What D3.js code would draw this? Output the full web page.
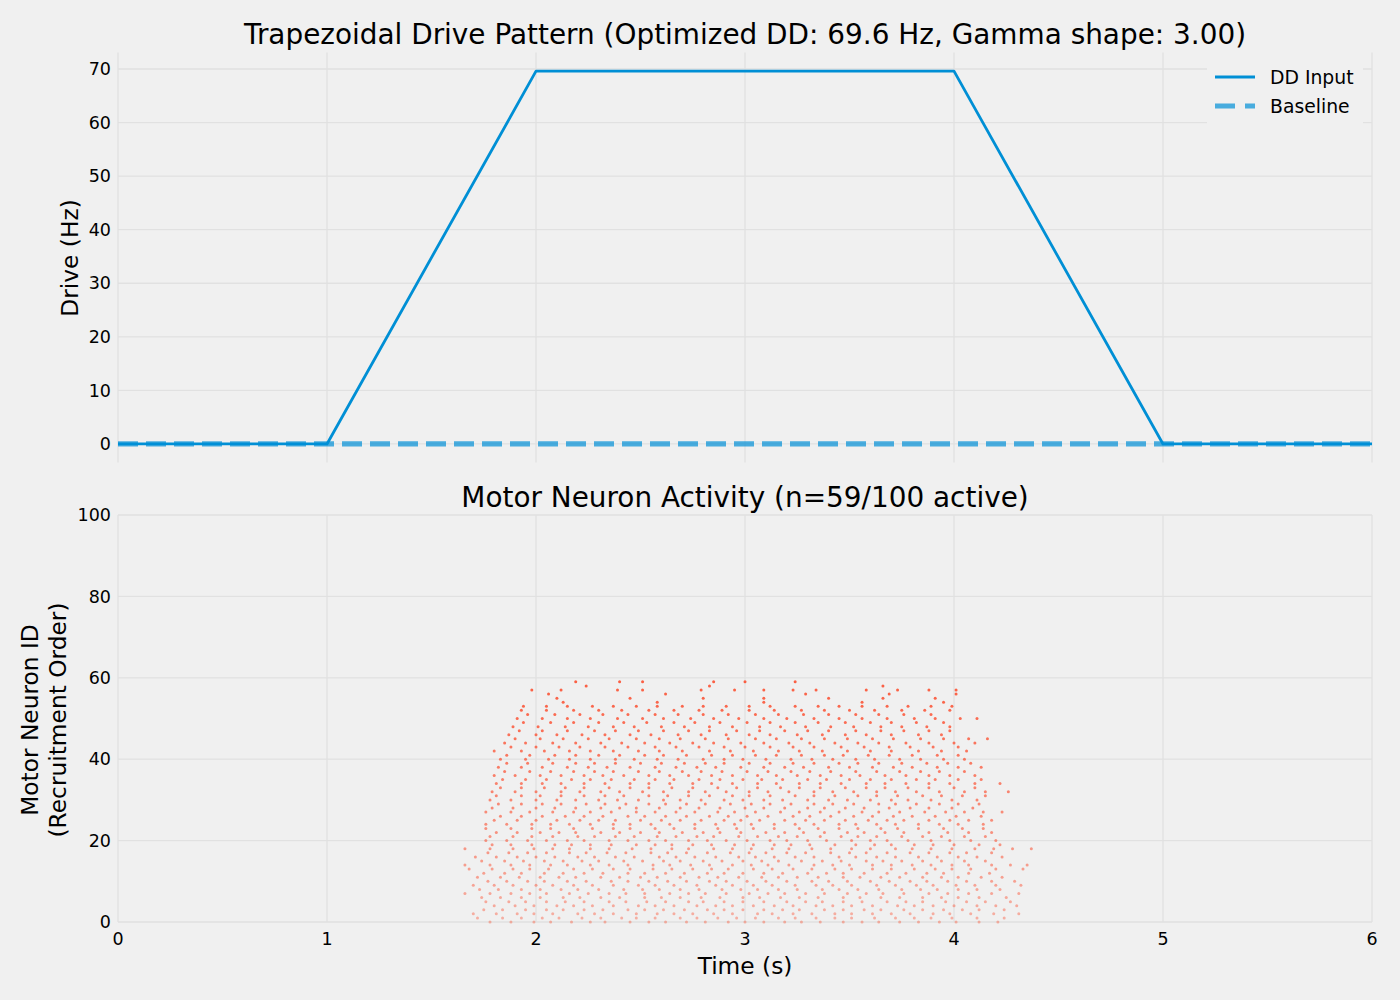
<!DOCTYPE html>
<html><head><meta charset="utf-8">
<script src="https://cdn.jsdelivr.net/npm/d3@7"></script>
<style>
body{margin:0;background:#f0f0f0;}
svg text{font-family:"DejaVu Sans",sans-serif;fill:#000;}
</style>
</head><body>
<svg id="chart" width="1400" height="1000"></svg>
<script>
// ---------- data ----------
const driveTimes = [0, 1, 2, 4, 5, 6];
const driveValues = [0, 0, 69.6, 69.6, 0, 0];
const baselineTimes = [0, 6];
const baselineValues = [0, 0];
const driveTicks = [0, 10, 20, 30, 40, 50, 60, 70];
const neuronTicks = [0, 20, 40, 60, 80, 100];
const timeTicks = [0, 1, 2, 3, 4, 5, 6];
const topTitle = "Trapezoidal Drive Pattern (Optimized DD: 69.6 Hz, Gamma shape: 3.00)";
const bottomTitle = "Motor Neuron Activity (n=59/100 active)";

// spike times (s), index = motor neuron ID (recruitment order)
const spikeTrains = [
[1.78,1.88,1.99,2.07,2.17,2.26,2.33,2.45,2.54,2.62,2.72,2.81,2.92,3.00,3.09,3.19,3.27,3.36,3.47,3.56,3.64,3.74,3.83,3.93,4.01,4.12,4.21],
[1.72,1.84,1.93,2.03,2.11,2.22,2.31,2.41,2.48,2.57,2.69,2.77,2.87,2.96,3.05,3.16,3.24,3.34,3.43,3.51,3.62,3.72,3.81,3.89,3.99,4.11,4.24],
[1.70,1.81,1.91,1.99,2.08,2.20,2.28,2.37,2.48,2.58,2.66,2.75,2.85,2.94,3.06,3.13,3.23,3.32,3.43,3.51,3.61,3.70,3.79,3.90,3.98,4.08,4.19,4.31],
[1.75,1.84,1.95,2.05,2.13,2.23,2.32,2.44,2.52,2.61,2.71,2.82,2.90,2.99,3.09,3.18,3.26,3.38,3.47,3.57,3.65,3.76,3.85,3.95,4.04,4.12,4.24],
[1.80,1.90,1.99,2.10,2.18,2.27,2.37,2.49,2.57,2.66,2.77,2.86,2.94,3.04,3.14,3.23,3.34,3.42,3.51,3.61,3.73,3.81,3.90,4.00,4.11,4.20,4.30],
[1.76,1.87,1.95,2.05,2.14,2.23,2.35,2.43,2.53,2.62,2.73,2.80,2.90,2.99,3.09,3.20,3.29,3.37,3.47,3.56,3.68,3.77,3.85,3.96,4.06,4.15,4.27],
[1.74,1.83,1.93,2.02,2.13,2.21,2.31,2.40,2.52,2.60,2.69,2.79,2.88,2.99,3.07,3.17,3.26,3.35,3.47,3.55,3.65,3.74,3.85,3.94,4.02,4.12,4.25],
[1.66,1.78,1.88,1.97,2.05,2.16,2.25,2.35,2.43,2.52,2.64,2.73,2.81,2.91,3.02,3.11,3.19,3.29,3.38,3.49,3.58,3.66,3.76,3.88,3.97,4.07,4.18,4.31],
[1.73,1.82,1.93,2.02,2.12,2.20,2.30,2.42,2.51,2.59,2.69,2.78,2.89,2.98,3.06,3.16,3.25,3.37,3.45,3.54,3.64,3.75,3.84,3.92,4.02,4.11,4.22],
[1.70,1.80,1.89,2.00,2.08,2.18,2.27,2.37,2.49,2.57,2.66,2.77,2.86,2.94,3.04,3.13,3.24,3.34,3.42,3.51,3.63,3.72,3.82,3.90,4.01,4.10,4.20,4.32],
[1.77,1.86,1.96,2.04,2.15,2.24,2.36,2.44,2.54,2.63,2.72,2.83,2.91,3.01,3.10,3.20,3.32,3.40,3.49,3.60,3.69,3.79,3.87,3.97,4.06,4.18,4.29],
[1.72,1.83,1.92,2.02,2.11,2.19,2.31,2.40,2.50,2.58,2.69,2.78,2.87,2.97,3.08,3.16,3.25,3.35,3.47,3.55,3.65,3.74,3.85,3.94,4.02,4.13,4.23],
[1.75,1.85,1.93,2.04,2.13,2.23,2.32,2.44,2.52,2.62,2.71,2.82,2.90,2.99,3.09,3.18,3.30,3.39,3.47,3.57,3.68,3.77,3.87,3.95,4.07,4.17],
[1.68,1.79,1.89,1.97,2.06,2.18,2.27,2.37,2.45,2.56,2.65,2.75,2.84,2.92,3.04,3.13,3.23,3.32,3.43,3.51,3.61,3.70,3.81,3.91,3.99,4.08,4.20,4.33],
[1.66,1.78,1.88,1.97,2.07,2.15,2.26,2.35,2.44,2.56,2.64,2.74,2.83,2.94,3.03,3.11,3.21,3.33,3.42,3.50,3.61,3.70,3.80,3.89,3.99,4.07,4.18,4.27,4.35],
[1.74,1.85,1.94,2.04,2.13,2.22,2.30,2.42,2.51,2.61,2.69,2.80,2.89,2.99,3.08,3.16,3.27,3.37,3.46,3.58,3.66,3.75,3.85,3.94,4.05,4.15],
[1.71,1.81,1.91,2.00,2.09,2.20,2.28,2.38,2.47,2.59,2.67,2.76,2.86,2.97,3.05,3.14,3.24,3.33,3.45,3.53,3.63,3.72,3.83,3.92,4.02,4.11,4.23],
[1.77,1.87,1.96,2.05,2.16,2.24,2.34,2.43,2.55,2.63,2.72,2.82,2.93,3.02,3.10,3.20,3.29,3.41,3.50,3.58,3.68,3.79,3.88,3.98,4.06,4.18],
[1.66,1.78,1.89,1.99,2.08,2.16,2.26,2.35,2.46,2.55,2.65,2.73,2.85,2.94,3.03,3.13,3.21,3.32,3.41,3.51,3.60,3.72,3.80,3.89,3.99,4.10,4.19,4.28,4.37],
[1.79,1.88,1.98,2.09,2.17,2.26,2.36,2.48,2.57,2.65,2.75,2.84,2.95,3.04,3.14,3.22,3.31,3.43,3.53,3.62,3.70,3.81,3.90,4.00,4.12,4.22],
[1.76,1.86,1.96,2.05,2.15,2.23,2.35,2.44,2.54,2.62,2.73,2.82,2.91,3.01,3.12,3.20,3.30,3.39,3.51,3.60,3.68,3.78,3.89,3.98,4.08,4.20],
[1.78,1.89,1.98,2.08,2.20,2.28,2.38,2.47,2.58,2.67,2.77,2.85,2.97,3.06,3.16,3.25,3.36,3.46,3.54,3.63,3.75,3.85,3.94,4.05,4.15],
[1.81,1.91,2.02,2.11,2.19,2.31,2.40,2.50,2.59,2.70,2.80,2.88,2.98,3.10,3.19,3.28,3.38,3.49,3.57,3.67,3.76,3.88,3.97,4.07,4.18],
[1.76,1.88,1.98,2.07,2.18,2.27,2.37,2.45,2.57,2.66,2.76,2.87,2.96,3.04,3.14,3.26,3.35,3.45,3.54,3.65,3.73,3.83,3.95,4.04,4.14],
[1.76,1.86,1.98,2.07,2.16,2.26,2.37,2.45,2.55,2.64,2.76,2.86,2.95,3.03,3.14,3.24,3.33,3.45,3.53,3.63,3.72,3.83,3.93,4.02,4.14],
[1.80,1.91,2.00,2.10,2.21,2.30,2.38,2.50,2.60,2.69,2.79,2.90,2.98,3.07,3.19,3.29,3.38,3.48,3.59,3.68,3.76,3.88,3.98,4.07,4.18],
[1.83,1.93,2.03,2.14,2.23,2.32,2.44,2.52,2.62,2.72,2.83,2.92,3.01,3.11,3.23,3.31,3.41,3.52,3.61,3.71,3.80,3.91,4.01,4.13],
[1.76,1.88,1.97,2.08,2.18,2.26,2.36,2.48,2.57,2.67,2.76,2.87,2.95,3.05,3.17,3.26,3.36,3.45,3.56,3.64,3.74,3.86,3.96,4.05,4.14,4.23],
[1.79,1.89,2.00,2.09,2.19,2.31,2.40,2.48,2.59,2.69,2.78,2.88,3.00,3.09,3.19,3.30,3.38,3.48,3.57,3.69,3.79,3.88,3.99,4.09],
[1.82,1.93,2.03,2.12,2.24,2.33,2.43,2.54,2.62,2.72,2.81,2.93,3.03,3.12,3.22,3.33,3.42,3.52,3.64,3.72,3.82,3.93,4.02,4.12],
[1.78,1.88,2.00,2.10,2.19,2.30,2.39,2.49,2.61,2.69,2.79,2.90,2.99,3.09,3.18,3.30,3.40,3.49,3.60,3.70,3.78,3.89,3.99,4.11],
[1.81,1.93,2.02,2.12,2.23,2.33,2.42,2.54,2.63,2.73,2.83,2.94,3.02,3.12,3.24,3.33,3.43,3.54,3.63,3.73,3.85,3.94,4.04,4.15],
[1.79,1.90,2.00,2.12,2.21,2.31,2.40,2.51,2.61,2.73,2.81,2.91,3.02,3.11,3.21,3.33,3.42,3.52,3.63,3.72,3.82,3.93,4.05,4.15,4.26],
[1.83,1.93,2.04,2.14,2.23,2.35,2.45,2.54,2.65,2.75,2.87,2.96,3.06,3.17,3.26,3.36,3.48,3.58,3.67,3.78,3.88,4.00,4.10],
[1.81,1.93,2.03,2.12,2.23,2.33,2.45,2.54,2.64,2.75,2.84,2.94,3.06,3.15,3.26,3.36,3.46,3.58,3.67,3.77,3.88,3.98,4.10,4.22],
[1.84,1.95,2.05,2.17,2.26,2.36,2.47,2.57,2.66,2.78,2.88,2.99,3.08,3.18,3.30,3.39,3.50,3.60,3.70,3.82,3.91,4.02,4.13],
[1.80,1.90,2.02,2.12,2.23,2.32,2.42,2.54,2.64,2.73,2.84,2.94,3.06,3.15,3.25,3.36,3.46,3.55,3.67,3.77,3.88,3.98,4.10],
[1.85,1.97,2.07,2.18,2.28,2.37,2.49,2.59,2.70,2.79,2.89,3.01,3.11,3.22,3.31,3.41,3.53,3.63,3.74,3.84,3.93,4.05],
[1.82,1.93,2.03,2.15,2.25,2.34,2.45,2.57,2.67,2.77,2.86,2.98,3.09,3.19,3.28,3.40,3.50,3.61,3.71,3.80,3.92,4.02,4.13],
[1.86,1.96,2.08,2.19,2.28,2.38,2.50,2.60,2.71,2.81,2.90,3.02,3.12,3.23,3.33,3.45,3.54,3.64,3.75,3.87,3.97,4.08],
[1.83,1.95,2.06,2.16,2.26,2.38,2.47,2.58,2.68,2.80,2.90,2.99,3.10,3.22,3.32,3.42,3.53,3.62,3.74,3.84,3.95,4.05],
[1.86,1.97,2.09,2.19,2.30,2.40,2.52,2.61,2.72,2.84,2.94,3.05,3.15,3.27,3.38,3.47,3.59,3.69,3.80,3.92,4.02],
[1.80,1.93,2.04,2.16,2.26,2.37,2.49,2.59,2.70,2.83,2.93,3.04,3.16,3.26,3.37,3.49,3.60,3.70,3.83,3.94,4.06],
[1.88,2.00,2.11,2.21,2.33,2.44,2.57,2.67,2.78,2.90,3.00,3.12,3.23,3.33,3.46,3.57,3.69,3.79,3.90,4.02],
[1.85,1.95,2.08,2.19,2.31,2.41,2.52,2.64,2.75,2.85,2.98,3.09,3.21,3.31,3.43,3.54,3.64,3.77,3.88,4.00,4.10],
[1.90,2.02,2.13,2.25,2.35,2.48,2.59,2.69,2.81,2.92,3.05,3.15,3.27,3.38,3.49,3.61,3.71,3.84,3.95,4.07,4.16],
[1.87,2.00,2.10,2.22,2.33,2.45,2.55,2.68,2.79,2.91,3.02,3.12,3.25,3.37,3.48,3.58,3.70,3.83,3.94],
[1.92,2.03,2.15,2.28,2.38,2.49,2.61,2.73,2.83,2.96,3.07,3.19,3.30,3.40,3.53,3.65,3.76,3.88,3.98],
[1.89,2.01,2.14,2.25,2.37,2.47,2.60,2.71,2.83,2.94,3.07,3.17,3.29,3.41,3.52,3.65,3.75,3.87,3.98],
[1.94,2.07,2.18,2.30,2.42,2.53,2.66,2.76,2.88,3.01,3.12,3.24,3.35,3.48,3.60,3.70,3.82,3.95],
[1.91,2.03,2.15,2.26,2.39,2.51,2.61,2.74,2.85,2.97,3.09,3.20,3.33,3.45,3.56,3.68,3.81,3.91,4.03,4.11],
[1.96,2.09,2.21,2.32,2.44,2.57,2.68,2.80,2.92,3.05,3.16,3.28,3.40,3.53,3.64,3.76,3.89],
[1.93,2.05,2.18,2.30,2.41,2.54,2.66,2.78,2.89,3.02,3.14,3.27,3.38,3.50,3.62,3.75,3.86,3.98],
[1.94,2.05,2.15,2.27,2.37,2.48,2.58,2.70,2.80,2.91,3.02,3.12,3.24,3.35,3.45,3.56,3.68,3.78,3.89,3.99],
[2.13,2.58,3.09,3.56,3.95],
[2.10,2.45,2.80,3.09,3.40,3.66,3.91],
[2.06,2.62,3.29,3.69,4.01],
[1.98,2.12,2.39,2.51,2.79,2.95,3.09,3.23,3.34,3.58,3.73,3.88,4.01],
[2.24,2.83,3.66],
[2.19,2.40,2.51,2.85,3.00,3.24]
];

// ---------- layout ----------
const svg = d3.select("#chart");
const W = 1400, H = 1000;
svg.append("rect").attr("width", W).attr("height", H).attr("fill", "#f0f0f0");
const plotLeft = 118, plotRight = 1372;
const gridColor = "#e1e1e1";
const blue = "#008fd5", red = "#fc4f30";

const x = d3.scaleLinear().domain([0, 6]).range([plotLeft, plotRight]);
const yTop = d3.scaleLinear().domain([-3.48, 73.08]).range([462.6, 52.5]);
const yBot = d3.scaleLinear().domain([0, 100]).range([922, 515]);

function grid(g, yScale, yTicks, y0, y1) {
  g.selectAll(".hg").data(yTicks).join("line").attr("class", "hg")
    .attr("x1", plotLeft).attr("x2", plotRight)
    .attr("y1", d => yScale(d)).attr("y2", d => yScale(d))
    .attr("stroke", gridColor).attr("stroke-width", 1.3);
  g.selectAll(".vg").data(timeTicks).join("line").attr("class", "vg")
    .attr("x1", d => x(d)).attr("x2", d => x(d))
    .attr("y1", y0).attr("y2", y1)
    .attr("stroke", gridColor).attr("stroke-width", 1.3);
}

// ----- top panel -----
const topG = svg.append("g");
grid(topG.append("g"), yTop, driveTicks, yTop.range()[1], yTop.range()[0]);
topG.append("g").selectAll("text").data(driveTicks).join("text")
  .attr("x", 111).attr("y", d => yTop(d)).attr("dy", "0.35em")
  .attr("text-anchor", "end").attr("font-size", 17.5).text(d => d);

const line = d3.line().x(d => x(d[0])).y(d => yTop(d[1]));
topG.append("path").datum(driveTimes.map((t, i) => [t, driveValues[i]]))
  .attr("d", line).attr("fill", "none").attr("stroke", blue).attr("stroke-width", 2.8)
  .attr("stroke-linejoin", "round");
topG.append("path").datum(baselineTimes.map((t, i) => [t, baselineValues[i]]))
  .attr("d", line).attr("fill", "none").attr("stroke", blue).attr("stroke-opacity", 0.7)
  .attr("stroke-width", 5.2).attr("stroke-dasharray", "20,8");

topG.append("text").attr("x", 745).attr("y", 34).attr("dy", "0.35em")
  .attr("text-anchor", "middle").attr("font-size", 27.9).text(topTitle);
topG.append("text").attr("transform", "translate(70,258) rotate(-90)")
  .attr("dy", "0.35em").attr("text-anchor", "middle").attr("font-size", 23.3).text("Drive (Hz)");

// legend
const lg = topG.append("g");
lg.append("rect").attr("x", 1207).attr("y", 58).attr("width", 156).attr("height", 68).attr("fill", "#f0f0f0");
lg.append("line").attr("x1", 1215).attr("x2", 1255).attr("y1", 77).attr("y2", 77)
  .attr("stroke", blue).attr("stroke-width", 2.8);
lg.append("line").attr("x1", 1215).attr("x2", 1255).attr("y1", 106).attr("y2", 106)
  .attr("stroke", blue).attr("stroke-opacity", 0.7).attr("stroke-width", 5.2).attr("stroke-dasharray", "20,10");
lg.append("text").attr("x", 1270).attr("y", 77).attr("dy", "0.35em").attr("font-size", 18.8).text("DD Input");
lg.append("text").attr("x", 1270).attr("y", 106).attr("dy", "0.35em").attr("font-size", 18.8).text("Baseline");

// ----- bottom panel -----
const botG = svg.append("g");
grid(botG.append("g"), yBot, neuronTicks, 515, 922);
botG.append("g").selectAll("text").data(neuronTicks).join("text")
  .attr("x", 111).attr("y", d => yBot(d)).attr("dy", "0.35em")
  .attr("text-anchor", "end").attr("font-size", 17.5).text(d => d);
botG.append("g").selectAll("text").data(timeTicks).join("text")
  .attr("x", d => x(d)).attr("y", 939).attr("dy", "0.35em")
  .attr("text-anchor", "middle").attr("font-size", 17.5).text(d => d);

const spikes = [];
spikeTrains.forEach((train, id) => train.forEach(t => spikes.push({id, t})));
const maxId = spikeTrains.length - 1;
botG.append("g").selectAll("circle").data(spikes).join("circle")
  .attr("cx", d => x(d.t)).attr("cy", d => yBot(d.id)).attr("r", 1.5)
  .attr("fill", red).attr("fill-opacity", d => 0.4 + 0.5 * d.id / maxId);

botG.append("text").attr("x", 745).attr("y", 497).attr("dy", "0.35em")
  .attr("text-anchor", "middle").attr("font-size", 27.9).text(bottomTitle);
botG.append("text").attr("x", 745).attr("y", 966).attr("dy", "0.35em")
  .attr("text-anchor", "middle").attr("font-size", 23.3).text("Time (s)");
botG.append("text").attr("transform", "translate(30,720) rotate(-90)")
  .attr("dy", "0.35em").attr("text-anchor", "middle").attr("font-size", 23.3).text("Motor Neuron ID");
botG.append("text").attr("transform", "translate(58,720) rotate(-90)")
  .attr("dy", "0.35em").attr("text-anchor", "middle").attr("font-size", 23.3).text("(Recruitment Order)");
</script>
</body></html>
